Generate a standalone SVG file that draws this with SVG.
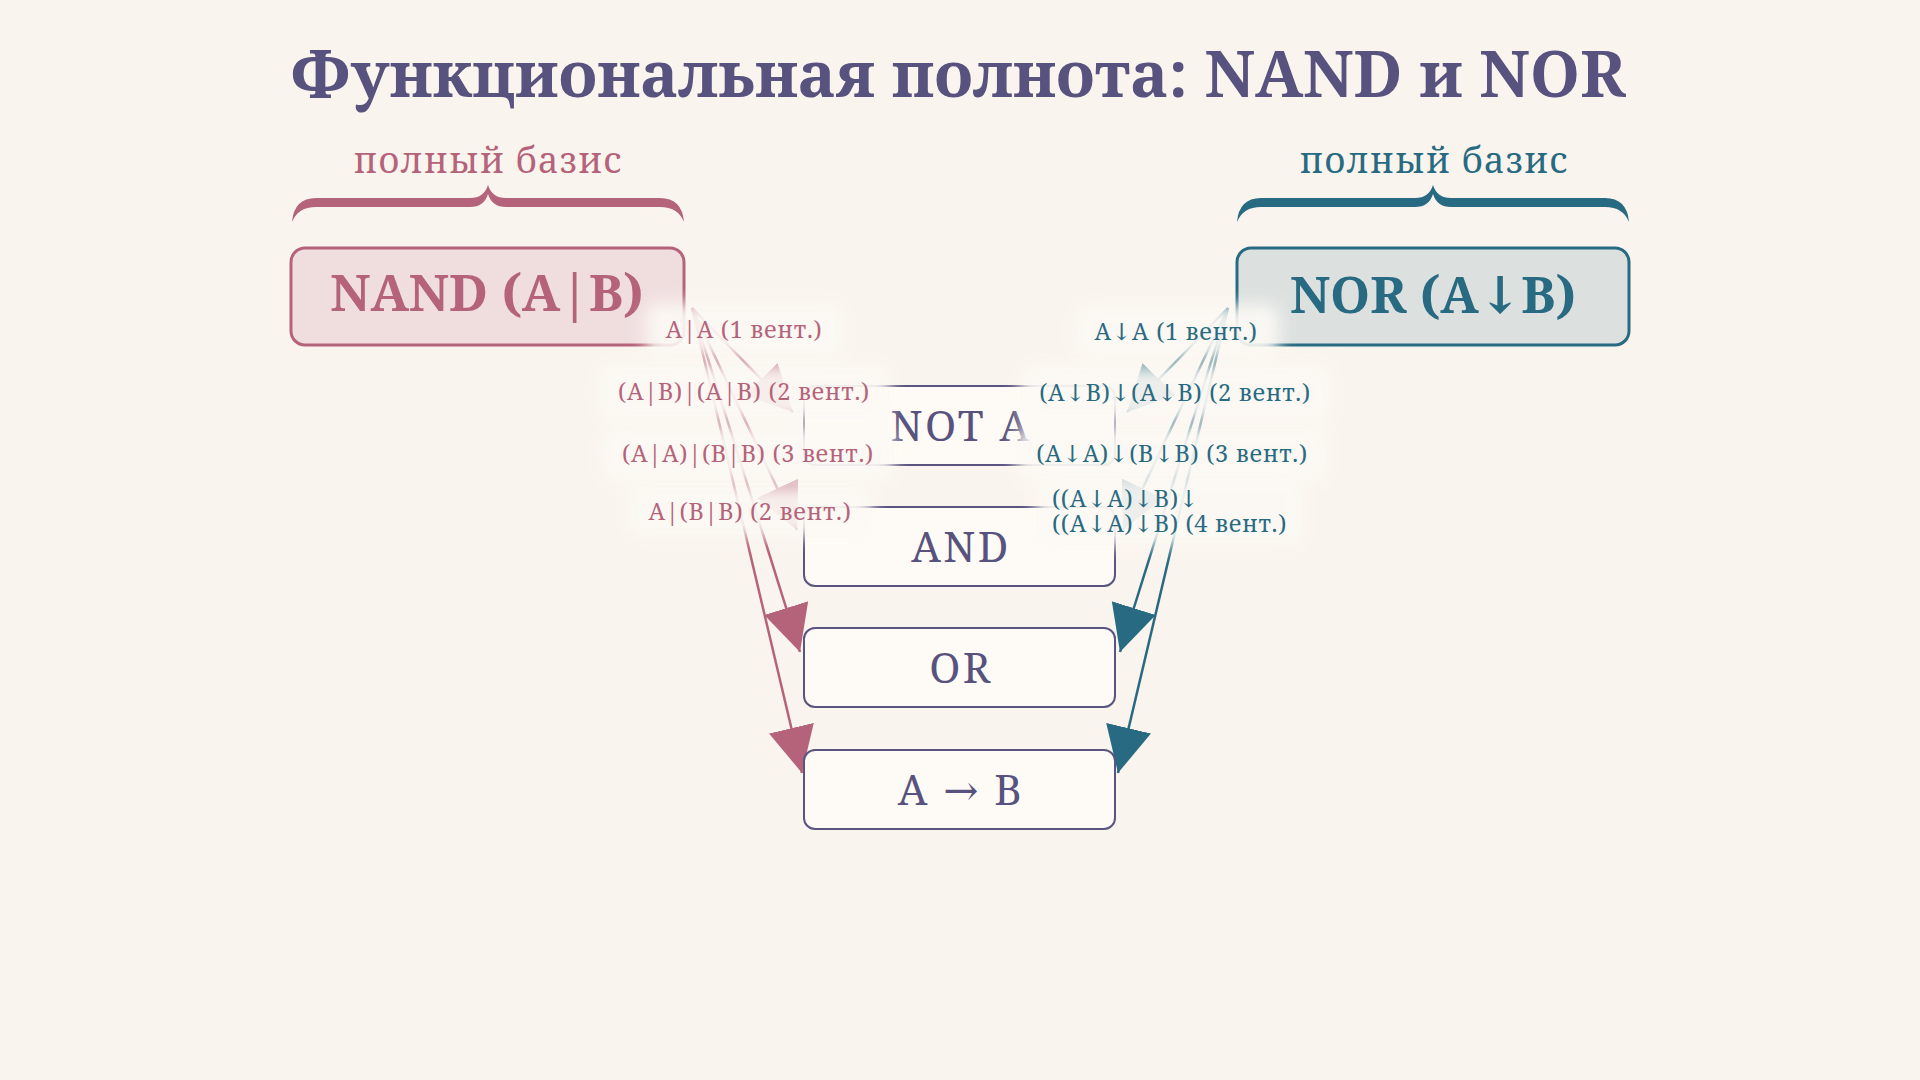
<svg xmlns="http://www.w3.org/2000/svg" width="1920" height="1080" viewBox="0 0 1920 1080">
<defs>
<style>
.title{font-family:"Noto Serif","DejaVu Serif",serif;font-weight:bold;font-size:64px;fill:#57527e;text-anchor:middle}
.basis{font-family:"Noto Serif","DejaVu Serif",serif;font-size:36px;letter-spacing:1.2px;text-anchor:middle}
.gate{font-family:"Noto Serif","DejaVu Serif",serif;font-weight:bold;font-size:51px;text-anchor:middle}
.node rect{fill:#fefaf5;stroke:#5a5480;stroke-width:2}
.node text{font-family:"Noto Serif","DejaVu Serif",serif;font-size:42px;letter-spacing:2.5px;fill:#57527e;text-anchor:middle}
.lbl{font-family:"Noto Serif","DejaVu Serif",serif;font-size:23.5px;letter-spacing:0.7px;text-anchor:middle}
.pk{fill:#b5637a}
.tl{fill:#286a82}
.ep{stroke:#b5637a;stroke-width:2.5;fill:none;marker-end:url(#ap)}
.et{stroke:#286a82;stroke-width:2.5;fill:none;marker-end:url(#at)}
.halo{fill:#fcf9f4;opacity:0.93;filter:url(#blur)}
</style>
<filter id="blur" x="-30%" y="-60%" width="160%" height="220%"><feGaussianBlur stdDeviation="8"/></filter>
<marker id="ap" markerUnits="userSpaceOnUse" markerWidth="48" markerHeight="48" refX="46" refY="23" orient="auto"><path d="M0,0 L46,23 L0,46 Z" fill="#b5637a"/></marker>
<marker id="at" markerUnits="userSpaceOnUse" markerWidth="48" markerHeight="48" refX="46" refY="23" orient="auto"><path d="M0,0 L46,23 L0,46 Z" fill="#286a82"/></marker>
</defs>
<rect width="1920" height="1080" fill="#faf4ee"/>
<text class="title" x="958" y="97">Функциональная полнота: NAND и NOR</text>

<g id="connectors">
<path class="ep" d="M692,308 L793,412"/>
<path class="ep" d="M692,308 L797,530"/>
<path class="ep" d="M692,308 L800,652"/>
<path class="ep" d="M692,308 L802,773"/>
<path class="et" d="M1228,308 L1127,412"/>
<path class="et" d="M1228,308 L1123,530"/>
<path class="et" d="M1228,308 L1120,652"/>
<path class="et" d="M1228,308 L1118,773"/>
</g>

<g id="nand">
<text class="basis pk" x="488" y="173">полный базис</text>
<path class="pk" d="M292,222 Q294,198 316,198 L470,198 Q484,198 488,185 Q492,198 506,198 L660,198 Q682,198 684,222 Q678,207 660,207 L506,207 Q492,207 488,194 Q484,207 470,207 L316,207 Q298,207 292,222 Z"/>
<rect x="291" y="248" width="393" height="97" rx="14" fill="#f0dedf" stroke="#b5637a" stroke-width="3"/>
<text class="gate pk" x="487" y="311">NAND (A|B)</text>
</g>

<g id="nor">
<text class="basis tl" x="1434" y="173">полный базис</text>
<path class="tl" d="M1237,222 Q1239,198 1261,198 L1415,198 Q1429,198 1433,185 Q1437,198 1451,198 L1605,198 Q1627,198 1629,222 Q1623,207 1605,207 L1451,207 Q1437,207 1433,194 Q1429,207 1415,207 L1261,207 Q1243,207 1237,222 Z"/>
<rect x="1237" y="248" width="392" height="97" rx="14" fill="#dce1e0" stroke="#286a82" stroke-width="3"/>
<text class="gate tl" x="1433" y="313">NOR (A↓B)</text>
</g>

<g id="not" class="node"><rect x="804" y="386" width="311" height="79" rx="11"/><text x="961" y="441">NOT A</text></g>
<g id="and" class="node"><rect x="804" y="507" width="311" height="79" rx="11"/><text x="961" y="562">AND</text></g>
<g id="or" class="node"><rect x="804" y="628" width="311" height="79" rx="11"/><text x="961" y="683">OR</text></g>
<g id="impl" class="node"><rect x="804" y="750" width="311" height="79" rx="11"/><text x="961" y="805">A → B</text></g>

<g id="labels">
<rect class="halo" x="646" y="303" width="198" height="54" rx="12"/>
<rect class="halo" x="598" y="364" width="292" height="56" rx="12"/>
<rect class="halo" x="602" y="426" width="292" height="56" rx="12"/>
<rect class="halo" x="628" y="485" width="244" height="52" rx="12"/>
<rect class="halo" x="1075" y="305" width="204" height="54" rx="12"/>
<rect class="halo" x="1020" y="365" width="312" height="56" rx="12"/>
<rect class="halo" x="1016" y="426" width="312" height="56" rx="12"/>
<rect class="halo" x="1036" y="476" width="268" height="70" rx="12"/>
<text class="lbl pk" x="744" y="338">A|A (1 вент.)</text>
<text class="lbl pk" x="744" y="400">(A|B)|(A|B) (2 вент.)</text>
<text class="lbl pk" x="748" y="462">(A|A)|(B|B) (3 вент.)</text>
<text class="lbl pk" x="750" y="520">A|(B|B) (2 вент.)</text>
<text class="lbl tl" x="1176" y="340">A↓A (1 вент.)</text>
<text class="lbl tl" x="1175" y="401">(A↓B)↓(A↓B) (2 вент.)</text>
<text class="lbl tl" x="1172" y="462">(A↓A)↓(B↓B) (3 вент.)</text>
<text class="lbl tl" x="1052" y="507" style="text-anchor:start">((A↓A)↓B)↓</text>
<text class="lbl tl" x="1052" y="532" style="text-anchor:start">((A↓A)↓B) (4 вент.)</text>
</g>
</svg>
